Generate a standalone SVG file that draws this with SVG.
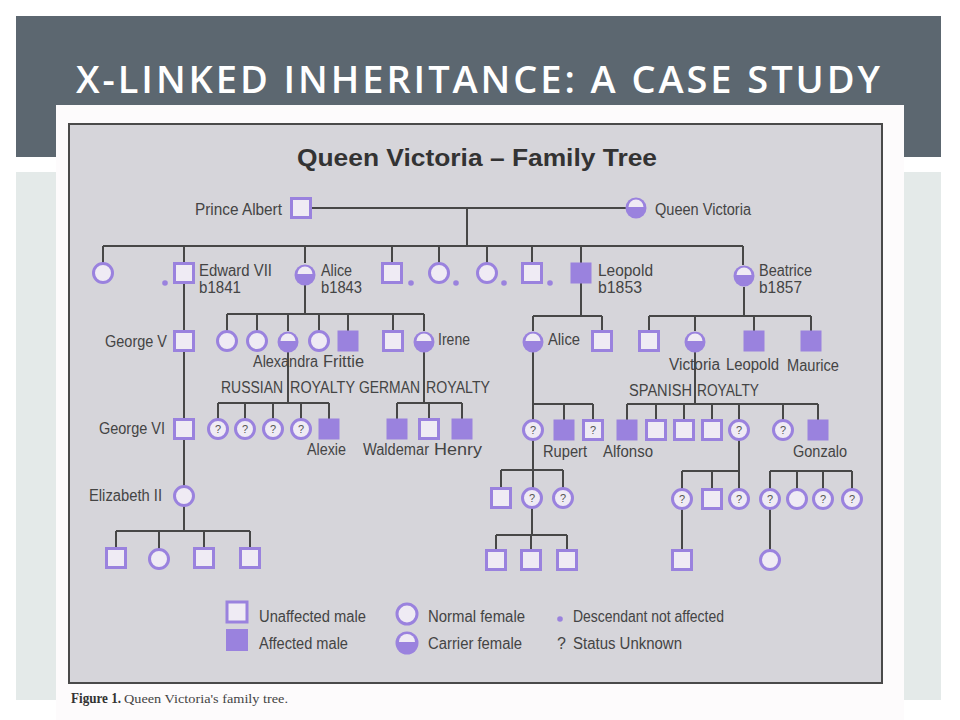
<svg xmlns="http://www.w3.org/2000/svg" xmlns:xlink="http://www.w3.org/1999/xlink" width="960" height="720" viewBox="0 0 960 720">
<style>
.lb{font-family:"Liberation Sans",Arial,sans-serif;font-size:16px;fill:#444}
.qm{font-family:"Liberation Sans",Arial,sans-serif;font-size:11px;fill:#555;text-anchor:middle}
.ln{stroke:#474747;stroke-width:2;fill:none}
</style>
<defs>
<rect id="M" x="-9.5" y="-9.5" width="19" height="19" fill="#efebf4" stroke="#9a82de" stroke-width="3"/>
<rect id="A" x="-10.5" y="-10.5" width="21" height="21" fill="#9a82de"/>
<circle id="F" r="9.5" fill="#efebf4" stroke="#9a82de" stroke-width="3"/>
<g id="C"><circle r="10.5" fill="#9a82de"/><path d="M-7.5,-1 A7.5,7.5 0 0 1 7.5,-1 Z" fill="#efebf4"/></g>
<g id="Q"><circle r="9.5" fill="#efebf4" stroke="#9a82de" stroke-width="3"/><text class="qm" y="4">?</text></g>
<g id="QS"><rect x="-9.5" y="-9.5" width="19" height="19" fill="#efebf4" stroke="#9a82de" stroke-width="3"/><text class="qm" y="4">?</text></g>
<circle id="D" r="2.8" fill="#9a82de"/>
</defs>

<rect width="960" height="720" fill="#ffffff"/>
<rect x="16" y="16" width="925" height="141" fill="#5c6770"/>
<rect x="16" y="172" width="925" height="528" fill="#e4eae9"/>
<text x="76" y="93" font-family="'Open Sans','Liberation Sans',sans-serif" font-size="38" font-weight="600" fill="#ffffff" textLength="804" lengthAdjust="spacing">X-LINKED INHERITANCE: A CASE STUDY</text>
<rect x="56" y="105" width="848" height="615" fill="#fdfbfc"/>
<rect x="69" y="124" width="813" height="559" fill="#d6d5da" stroke="#4a4a4a" stroke-width="2"/>
<text x="297" y="166" font-family="'Liberation Sans',Arial,sans-serif" font-size="23" font-weight="bold" fill="#333" textLength="360" lengthAdjust="spacingAndGlyphs">Queen Victoria – Family Tree</text>
<text x="71" y="703" font-family="'Liberation Serif','Times New Roman',serif" font-size="14" font-weight="bold" fill="#333" textLength="50" lengthAdjust="spacingAndGlyphs">Figure 1.</text>
<text x="124" y="703" font-family="'Liberation Serif','Times New Roman',serif" font-size="12" fill="#444" textLength="164" lengthAdjust="spacingAndGlyphs">Queen Victoria's family tree.</text>

<g id="connectors" class="ln">
<path d="M310 208H626M467 208V246M103 246H743M103 246V263M184 246V263M305 246V263M392 246V263M439 246V263M487 246V263M532 246V263M581 246V263M743 246V265"/>
<path d="M184 283V495M184 531V506M116 531H250M116 531V548M159 531V550M204 531V548M250 531V548"/>
<path d="M305 285V314M227 314H424M227 314V331M257 314V331M288 314V331M319 314V331M348 314V331M393 314V331M424 314V331"/>
<path d="M288 352V403M218 403H329M218 403V420M245 403V420M273 403V420M301 403V420M329 403V419"/>
<path d="M424 352V403M397 403H462M397 403V419M429 403V419M462 403V419"/>
<path d="M581 283V316M533 316H602M533 316V331M602 316V331"/>
<path d="M744 287V316M649 316H811M649 316V331M695 316V331M754 316V331M811 316V331"/>
<path d="M533 352V420M533 404H593M564 404V420M593 404V420"/>
<path d="M695 352V404M627 404H818M627 404V420M656 404V420M684 404V420M712 404V420M739 404V420M783 404V420M818 404V420"/>
<path d="M533 440V488M501 470H563M501 470V488M563 470V488"/>
<path d="M532 508V535M496 535H567M496 535V550M531 535V550M567 535V550"/>
<path d="M739 440V489M682 471H739M682 471V489M712 471V489"/>
<path d="M682 509V550"/>
<path d="M770 471H852M770 471V489M797 471V489M823 471V489M852 471V489M770 509V550"/>
</g>

<g id="prince-albert"><use xlink:href="#M" x="301" y="208"/><text class="lb" x="195" y="215" textLength="87" lengthAdjust="spacingAndGlyphs">Prince Albert</text></g>
<g id="queen-victoria"><use xlink:href="#C" x="636" y="208"/><text class="lb" x="655" y="215" textLength="96" lengthAdjust="spacingAndGlyphs">Queen Victoria</text></g>

<g id="c1"><use xlink:href="#F" x="103" y="273"/></g>
<g id="edward-vii"><use xlink:href="#M" x="184" y="273"/><use xlink:href="#D" x="165" y="283"/><text class="lb" x="199" y="276" textLength="73" lengthAdjust="spacingAndGlyphs">Edward VII</text><text class="lb" x="199" y="293" textLength="42" lengthAdjust="spacingAndGlyphs">b1841</text></g>
<g id="alice"><use xlink:href="#C" x="305" y="275"/><text class="lb" x="321" y="276" textLength="31" lengthAdjust="spacingAndGlyphs">Alice</text><text class="lb" x="321" y="293" textLength="41" lengthAdjust="spacingAndGlyphs">b1843</text></g>
<g id="c4"><use xlink:href="#M" x="392" y="273"/><use xlink:href="#D" x="411" y="283"/></g>
<g id="c5"><use xlink:href="#F" x="439" y="273"/><use xlink:href="#D" x="456" y="283"/></g>
<g id="c6"><use xlink:href="#F" x="487" y="273"/><use xlink:href="#D" x="504" y="283"/></g>
<g id="c7"><use xlink:href="#M" x="532" y="273"/><use xlink:href="#D" x="550" y="283"/></g>
<g id="leopold"><use xlink:href="#A" x="581" y="273"/><text class="lb" x="598" y="276" textLength="55" lengthAdjust="spacingAndGlyphs">Leopold</text><text class="lb" x="598" y="293" textLength="44" lengthAdjust="spacingAndGlyphs">b1853</text></g>
<g id="beatrice"><use xlink:href="#C" x="744" y="276"/><text class="lb" x="759" y="276" textLength="53" lengthAdjust="spacingAndGlyphs">Beatrice</text><text class="lb" x="759" y="293" textLength="43" lengthAdjust="spacingAndGlyphs">b1857</text></g>

<g id="george-v"><use xlink:href="#M" x="184" y="341"/><text class="lb" x="105" y="347" textLength="62" lengthAdjust="spacingAndGlyphs">George V</text></g>
<g id="george-vi"><use xlink:href="#M" x="184" y="429"/><text class="lb" x="99" y="434" textLength="66" lengthAdjust="spacingAndGlyphs">George VI</text></g>
<g id="elizabeth-ii"><use xlink:href="#F" x="184" y="496"/><text class="lb" x="89" y="501" textLength="73" lengthAdjust="spacingAndGlyphs">Elizabeth II</text></g>
<g id="e1"><use xlink:href="#M" x="116" y="558"/></g>
<g id="e2"><use xlink:href="#F" x="159" y="559"/></g>
<g id="e3"><use xlink:href="#M" x="204" y="558"/></g>
<g id="e4"><use xlink:href="#M" x="250" y="558"/></g>

<g id="a1"><use xlink:href="#F" x="227" y="341"/></g>
<g id="a2"><use xlink:href="#F" x="257" y="341"/></g>
<g id="alexandra"><use xlink:href="#C" x="288" y="342"/><text class="lb" x="253" y="367" textLength="65" lengthAdjust="spacingAndGlyphs">Alexandra</text></g>
<g id="a4"><use xlink:href="#F" x="319" y="341"/></g>
<g id="frittie"><use xlink:href="#A" x="348" y="341"/><text class="lb" x="323" y="367" textLength="41" lengthAdjust="spacingAndGlyphs">Frittie</text></g>
<g id="a6"><use xlink:href="#M" x="393" y="341"/></g>
<g id="irene"><use xlink:href="#C" x="424" y="342"/><text class="lb" x="438" y="345" textLength="32" lengthAdjust="spacingAndGlyphs">Irene</text></g>
<g id="russian-royalty"><text class="lb" x="221" y="393" textLength="62" lengthAdjust="spacingAndGlyphs">RUSSIAN</text><text class="lb" x="290" y="393" textLength="65" lengthAdjust="spacingAndGlyphs">ROYALTY</text></g>
<g id="german-royalty"><text class="lb" x="359" y="393" textLength="61" lengthAdjust="spacingAndGlyphs">GERMAN</text><text class="lb" x="426" y="393" textLength="64" lengthAdjust="spacingAndGlyphs">ROYALTY</text></g>

<g id="r1"><use xlink:href="#Q" x="218" y="429"/></g>
<g id="r2"><use xlink:href="#Q" x="245" y="429"/></g>
<g id="r3"><use xlink:href="#Q" x="273" y="429"/></g>
<g id="r4"><use xlink:href="#Q" x="301" y="429"/></g>
<g id="alexie"><use xlink:href="#A" x="329" y="429"/><text class="lb" x="307" y="455" textLength="39" lengthAdjust="spacingAndGlyphs">Alexie</text></g>
<g id="waldemar"><use xlink:href="#A" x="397" y="429"/><text class="lb" x="363" y="455" textLength="66" lengthAdjust="spacingAndGlyphs">Waldemar</text></g>
<g id="g2"><use xlink:href="#M" x="429" y="429"/></g>
<g id="henry"><use xlink:href="#A" x="462" y="429"/><text class="lb" x="434" y="455" textLength="48" lengthAdjust="spacingAndGlyphs">Henry</text></g>

<g id="alice-2"><use xlink:href="#C" x="533" y="342"/><text class="lb" x="548" y="345" textLength="32" lengthAdjust="spacingAndGlyphs">Alice</text></g>
<g id="l2"><use xlink:href="#M" x="602" y="341"/></g>
<g id="b1"><use xlink:href="#M" x="649" y="341"/></g>
<g id="victoria"><use xlink:href="#C" x="695" y="342"/><text class="lb" x="669" y="370" textLength="51" lengthAdjust="spacingAndGlyphs">Victoria</text></g>
<g id="leopold-2"><use xlink:href="#A" x="754" y="341"/><text class="lb" x="726" y="370" textLength="53" lengthAdjust="spacingAndGlyphs">Leopold</text></g>
<g id="maurice"><use xlink:href="#A" x="811" y="341"/><text class="lb" x="787" y="371" textLength="52" lengthAdjust="spacingAndGlyphs">Maurice</text></g>
<g id="spanish-royalty"><text class="lb" x="629" y="396" textLength="63" lengthAdjust="spacingAndGlyphs">SPANISH</text><text class="lb" x="697" y="396" textLength="62" lengthAdjust="spacingAndGlyphs">ROYALTY</text></g>

<g id="al1"><use xlink:href="#Q" x="533" y="430"/></g>
<g id="rupert"><use xlink:href="#A" x="564" y="430"/><text class="lb" x="543" y="457" textLength="44" lengthAdjust="spacingAndGlyphs">Rupert</text></g>
<g id="al3"><use xlink:href="#QS" x="593" y="430"/></g>
<g id="alfonso"><use xlink:href="#A" x="627" y="430"/><text class="lb" x="603" y="457" textLength="50" lengthAdjust="spacingAndGlyphs">Alfonso</text></g>
<g id="v2"><use xlink:href="#M" x="656" y="430"/></g>
<g id="v3"><use xlink:href="#M" x="684" y="430"/></g>
<g id="v4"><use xlink:href="#M" x="712" y="430"/></g>
<g id="v5"><use xlink:href="#Q" x="739" y="430"/></g>
<g id="v6"><use xlink:href="#Q" x="783" y="430"/></g>
<g id="gonzalo"><use xlink:href="#A" x="818" y="430"/><text class="lb" x="793" y="457" textLength="54" lengthAdjust="spacingAndGlyphs">Gonzalo</text></g>

<g id="p1"><use xlink:href="#M" x="501" y="498"/></g>
<g id="p2"><use xlink:href="#Q" x="532" y="498"/></g>
<g id="p3"><use xlink:href="#Q" x="563" y="498"/></g>
<g id="pp1"><use xlink:href="#M" x="496" y="560"/></g>
<g id="pp2"><use xlink:href="#M" x="531" y="560"/></g>
<g id="pp3"><use xlink:href="#M" x="567" y="560"/></g>

<g id="s1"><use xlink:href="#Q" x="682" y="499"/></g>
<g id="s2"><use xlink:href="#M" x="712" y="499"/></g>
<g id="s3"><use xlink:href="#Q" x="739" y="499"/></g>
<g id="s4"><use xlink:href="#Q" x="770" y="499"/></g>
<g id="s5"><use xlink:href="#F" x="797" y="499"/></g>
<g id="s6"><use xlink:href="#Q" x="823" y="499"/></g>
<g id="s7"><use xlink:href="#Q" x="852" y="499"/></g>
<g id="ss1"><use xlink:href="#M" x="682" y="560"/></g>
<g id="ss2"><use xlink:href="#F" x="770" y="560"/></g>

<g id="legend">
<rect x="227" y="602" width="20" height="20" fill="#efebf4" stroke="#9a82de" stroke-width="3"/>
<text class="lb" x="259" y="622" textLength="107" lengthAdjust="spacingAndGlyphs">Unaffected male</text>
<rect x="226" y="629" width="22" height="22" fill="#9a82de"/>
<text class="lb" x="259" y="649" textLength="89" lengthAdjust="spacingAndGlyphs">Affected male</text>
<circle cx="407" cy="614" r="10" fill="#efebf4" stroke="#9a82de" stroke-width="3"/>
<text class="lb" x="428" y="622" textLength="97" lengthAdjust="spacingAndGlyphs">Normal female</text>
<circle cx="407" cy="643" r="11.5" fill="#9a82de"/><path d="M399,642 A8,8 0 0 1 415,642 Z" fill="#efebf4"/>
<text class="lb" x="428" y="649" textLength="94" lengthAdjust="spacingAndGlyphs">Carrier female</text>
<circle cx="560" cy="619" r="2.8" fill="#9a82de"/>
<text class="lb" x="573" y="622" textLength="151" lengthAdjust="spacingAndGlyphs">Descendant not affected</text>
<text class="lb" x="557" y="649" font-size="14">?</text>
<text class="lb" x="573" y="649" textLength="109" lengthAdjust="spacingAndGlyphs">Status Unknown</text>
</g>
</svg>
